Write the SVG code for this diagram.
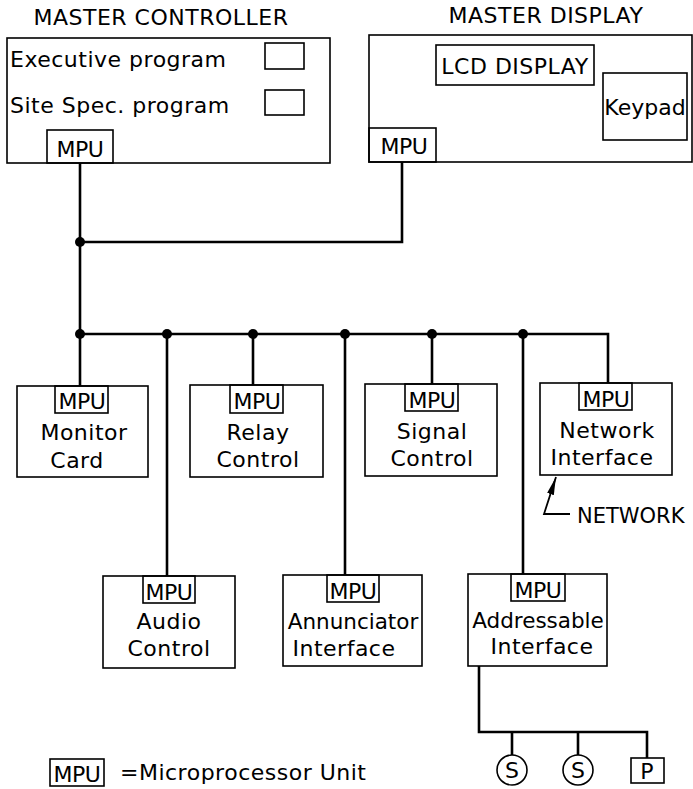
<svg xmlns="http://www.w3.org/2000/svg" width="693" height="789" viewBox="0 0 693 789">
<style>
.bx{fill:none;stroke:#000;stroke-width:1.6}
.ln{fill:none;stroke:#000;stroke-width:2.6;stroke-linejoin:miter}
.dot{fill:#000}
text{font-family:"DejaVu Sans","Liberation Sans",sans-serif;font-size:22px;fill:#000;letter-spacing:0.5px}
.c{text-anchor:middle}
.m{font-size:22px;letter-spacing:-0.5px}
.t{letter-spacing:0}
</style>
<defs>
<marker id="ah" markerUnits="userSpaceOnUse" markerWidth="20" markerHeight="10" refX="18" refY="5" orient="auto">
<path d="M0,1.5 L18,5 L0,8.5 z" fill="#000"/>
</marker>
</defs>
<rect width="693" height="789" fill="#fff"/>

<g id="connectors">
<polyline class="ln" points="80,163 80,386"/>
<polyline class="ln" points="402,162 402,242 80,242"/>
<polyline class="ln" points="80,334 608,334 608,383"/>
<line class="ln" x1="167" y1="334" x2="167" y2="576"/>
<line class="ln" x1="253" y1="334" x2="253" y2="385"/>
<line class="ln" x1="345" y1="334" x2="345" y2="575"/>
<line class="ln" x1="432" y1="334" x2="432" y2="384"/>
<line class="ln" x1="523" y1="334" x2="523" y2="574"/>
<polyline class="ln" points="479,666 479,732 647,732 647,758"/>
<line class="ln" x1="512" y1="732" x2="512" y2="755"/>
<line class="ln" x1="578" y1="732" x2="578" y2="755"/>
<circle class="dot" cx="80" cy="242" r="5"/>
<circle class="dot" cx="80" cy="334" r="5"/>
<circle class="dot" cx="167" cy="334" r="5"/>
<circle class="dot" cx="253" cy="334" r="5"/>
<circle class="dot" cx="345" cy="334" r="5"/>
<circle class="dot" cx="432" cy="334" r="5"/>
<circle class="dot" cx="523" cy="334" r="5"/>
</g>

<g id="master-controller">
<text x="161" y="25" class="c">MASTER CONTROLLER</text>
<rect class="bx" x="7" y="38" width="323" height="125"/>
<text x="10" y="67">Executive program</text>
<rect class="bx" x="265" y="43" width="39" height="26"/>
<text x="10" y="113">Site Spec. program</text>
<rect class="bx" x="265" y="90" width="39" height="25"/>
<rect class="bx" x="47" y="130" width="66" height="33"/>
<text x="80" y="157" class="c m">MPU</text>
</g>

<g id="master-display">
<text x="546" y="23" class="c">MASTER DISPLAY</text>
<rect class="bx" x="369" y="35" width="323" height="127"/>
<rect class="bx" x="436" y="45" width="158" height="40"/>
<text x="515" y="74" class="c">LCD DISPLAY</text>
<rect class="bx" x="603" y="73" width="84" height="67"/>
<text x="645" y="115" class="c t">Keypad</text>
<rect class="bx" x="369" y="128" width="67" height="34"/>
<text x="404" y="154" class="c m">MPU</text>
</g>

<g id="monitor-card">
<rect class="bx" x="17" y="386" width="131" height="91"/>
<rect class="bx" x="55" y="386" width="53" height="27"/>
<text x="82" y="409" class="c m">MPU</text>
<text x="84" y="440" class="c">Monitor</text>
<text x="77" y="468" class="c">Card</text>
</g>

<g id="relay-control">
<rect class="bx" x="190" y="385" width="133" height="92"/>
<rect class="bx" x="230" y="385" width="53" height="28"/>
<text x="257" y="409" class="c m">MPU</text>
<text x="258" y="440" class="c">Relay</text>
<text x="258" y="467" class="c">Control</text>
</g>

<g id="signal-control">
<rect class="bx" x="365" y="384" width="132" height="92"/>
<rect class="bx" x="405" y="384" width="53" height="27"/>
<text x="432" y="408" class="c m">MPU</text>
<text x="432" y="439" class="c">Signal</text>
<text x="432" y="466" class="c">Control</text>
</g>

<g id="network-interface">
<rect class="bx" x="540" y="383" width="132" height="92"/>
<rect class="bx" x="579" y="383" width="53" height="27"/>
<text x="606" y="407" class="c m">MPU</text>
<text x="607" y="438" class="c">Network</text>
<text x="602" y="465" class="c">Interface</text>
</g>

<g id="network-label">
<polyline class="ln" style="stroke-width:1.8" points="570,514 544,514 556,477" marker-end="url(#ah)"/>
<text x="577" y="523" class="t" style="font-size:21px">NETWORK</text>
</g>

<g id="audio-control">
<rect class="bx" x="103" y="576" width="132" height="92"/>
<rect class="bx" x="143" y="576" width="52" height="27"/>
<text x="169" y="600" class="c m">MPU</text>
<text x="169" y="629" class="c">Audio</text>
<text x="169" y="656" class="c">Control</text>
</g>

<g id="annunciator-interface">
<rect class="bx" x="283" y="575" width="139" height="91"/>
<rect class="bx" x="327" y="575" width="52" height="27"/>
<text x="353" y="599" class="c m">MPU</text>
<text x="353" y="629" class="c t" style="font-size:21.5px">Annunciator</text>
<text x="344" y="656" class="c">Interface</text>
</g>

<g id="addressable-interface">
<rect class="bx" x="468" y="574" width="139" height="92"/>
<rect class="bx" x="511" y="574" width="54" height="27"/>
<text x="538" y="598" class="c m">MPU</text>
<text x="538" y="628" class="c t" style="font-size:21.5px">Addressable</text>
<text x="542" y="654" class="c">Interface</text>
</g>

<g id="device-s1">
<circle class="bx" cx="512" cy="770" r="15"/>
<text x="512" y="778" class="c t">S</text>
</g>
<g id="device-s2">
<circle class="bx" cx="578" cy="770" r="15"/>
<text x="578" y="778" class="c t">S</text>
</g>
<g id="device-p">
<rect class="bx" x="631" y="758" width="33" height="25"/>
<text x="647" y="779" class="c t">P</text>
</g>

<g id="legend">
<rect class="bx" x="50" y="759" width="54" height="27"/>
<text x="77" y="782" class="c m">MPU</text>
<text x="120" y="780">=Microprocessor Unit</text>
</g>
</svg>
